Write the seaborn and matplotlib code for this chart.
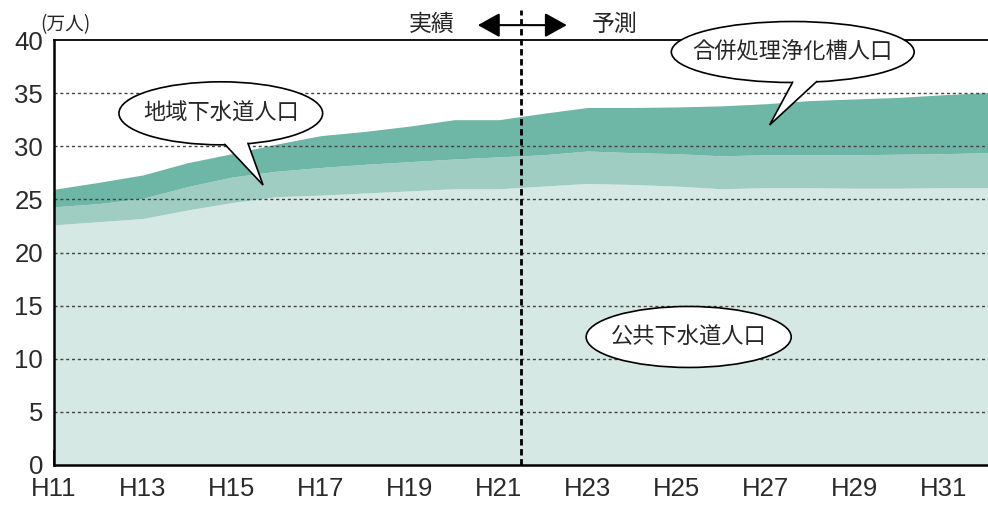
import numpy as np
import pandas as pd
import matplotlib
matplotlib.use("Agg")
import matplotlib.pyplot as plt
from matplotlib.patches import Ellipse, Polygon, FancyArrowPatch
import seaborn as sns

# 年度（平成）
years = list(range(11, 33))
tick_years = list(range(11, 32, 2))
tick_labels = [f"H{y}" for y in tick_years]

# 人口（万人）
public_sewer = [22.6, 22.9, 23.2, 24.0, 24.7, 25.25, 25.4, 25.6, 25.8, 26.0, 26.0,
                26.25, 26.5, 26.4, 26.25, 26.0, 26.1, 26.1, 26.05, 26.05, 26.1, 26.1]
community_sewer = [1.7, 1.7, 1.9, 2.2, 2.4, 2.4, 2.6, 2.7, 2.75, 2.8, 3.0,
                   2.95, 3.05, 3.0, 3.05, 3.1, 3.1, 3.1, 3.15, 3.2, 3.2, 3.3]
septic_tank = [1.65, 2.0, 2.2, 2.25, 2.2, 2.55, 3.0, 3.1, 3.35, 3.7, 3.5,
               3.9, 4.1, 4.25, 4.4, 4.7, 4.8, 5.1, 5.25, 5.35, 5.55, 5.65]

series_names = ["公共下水道人口", "地域下水道人口", "合併処理浄化槽人口"]
actual_end = 21.5  # 実績と予測の境目

df = pd.DataFrame({"year": years,
                   series_names[0]: public_sewer,
                   series_names[1]: community_sewer,
                   series_names[2]: septic_tank}).set_index("year")

sns.set_theme(style="white")
plt.rcParams["font.family"] = ["Noto Sans CJK JP", "DejaVu Sans"]

colors = sns.color_palette(["#d6e8e3", "#a0cdc2", "#6eb6a6"])

fig = plt.figure(figsize=(9.88, 5.07), dpi=100)
ax = fig.add_axes([54 / 988, 42 / 507, 1 - 54 / 988, 425 / 507])

ax.stackplot(df.index, *[df[c] for c in series_names], colors=colors,
             linewidth=0, zorder=1)

ax.set_xlim(11, 32)
ax.set_ylim(0, 40)

# grid
for yv in range(5, 40, 5):
    ax.axhline(yv, color="#444444", lw=1.0, ls=(0, (2.2, 2.0)), zorder=2)

# axes styling
for s in ["left", "bottom"]:
    ax.spines[s].set_color("black")
    ax.spines[s].set_linewidth(1.8)
    ax.spines[s].set_zorder(5)
ax.spines["top"].set_color("black")
ax.spines["top"].set_linewidth(1.3)
ax.spines["right"].set_visible(False)

tick_font = dict(family="Liberation Sans", fontsize=18.5, color="#2a2a2a")

ax.set_yticks(range(0, 41, 5))
ax.set_yticklabels([str(v) for v in range(0, 41, 5)], **tick_font)
ax.tick_params(axis="y", length=0, pad=8)

ax.set_xticks(years)
ax.set_xticklabels([f"H{y}" if y in tick_years else "" for y in years],
                   **tick_font)
ax.tick_params(axis="x", direction="in", length=11, width=1.2, color="black",
               pad=9, bottom=True)

# 単位
ax.text(10.69, 41.4, "(万人)", fontsize=13.5, ha="left", va="center",
        clip_on=False)

# 実績／予測の区切り
ax.plot([actual_end, actual_end], [0, 42.8], color="black", lw=2.0,
        ls=(0, (2.3, 1.3)), clip_on=False, zorder=6)
ax.text(19.49, 41.45, "実績", fontsize=16.5, ha="center", va="center")
ax.text(23.61, 41.45, "予測", fontsize=16.5, ha="center", va="center")
arrow = FancyArrowPatch((20.53, 41.4), (22.53, 41.4),
                        arrowstyle="<|-|>,head_length=0.45,head_width=0.25",
                        mutation_scale=30, color="black", lw=1.5,
                        clip_on=False, zorder=7, shrinkA=0, shrinkB=0)
ax.add_patch(arrow)


def balloon(cx, cy, w, h, text, tail=None):
    e = Ellipse((cx, cy), w, h, facecolor="white", edgecolor="black",
                lw=1.2, clip_on=False, zorder=10)
    ax.add_patch(e)
    if tail is not None:
        (x1, x2), (tx, ty) = tail
        pts = []
        for xb in (x1, x2):
            dy = (h / 2) * np.sqrt(max(0.0, 1 - ((xb - cx) / (w / 2)) ** 2))
            pts.append((xb, cy - dy * 0.985))
        fill = Polygon([(pts[0][0], pts[0][1] + 0.4), pts[0], (tx, ty), pts[1],
                        (pts[1][0], pts[1][1] + 0.4)],
                       closed=True, facecolor="white", edgecolor="none",
                       clip_on=False, zorder=11)
        ax.add_patch(fill)
        ax.plot([pts[0][0], tx, pts[1][0]], [pts[0][1], ty, pts[1][1]],
                color="black", lw=1.2, clip_on=False, zorder=12,
                solid_joinstyle="miter")
    ax.text(cx, cy, text, fontsize=16, ha="center", va="center", zorder=13,
            clip_on=False)


balloon(14.75, 33.1, 4.58, 5.93, series_names[1],
        tail=((14.84, 15.36), (15.70, 26.35)))
balloon(27.61, 38.87, 5.46, 5.74, series_names[2],
        tail=((27.61, 28.15), (27.09, 32.0)))
balloon(25.27, 12.05, 4.61, 5.74, series_names[0])

fig.savefig("out.png", dpi=100)
